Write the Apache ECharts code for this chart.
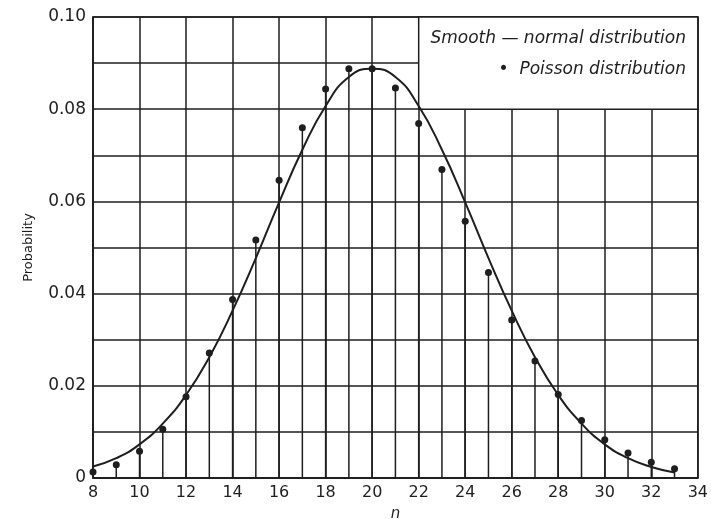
<!DOCTYPE html>
<html>
<head>
<meta charset="utf-8">
<title>Poisson vs normal</title>
<script src="https://cdn.jsdelivr.net/npm/echarts@6/dist/echarts.min.js"></script>
<style>
  html, body { margin: 0; padding: 0; background: #fff; }
  #chart { width: 711px; height: 527px; }
</style>
</head>
<body>
<div id="chart"></div>
<script>
  // values
  const nValues = [8, 9, 10, 11, 12, 13, 14, 15, 16, 17, 18, 19, 20,
    21, 22, 23, 24, 25, 26, 27, 28, 29, 30, 31, 32, 33]
  const poissonProb = [0.0013, 0.0029, 0.0058, 0.0106, 0.0176, 0.0271, 0.0387, 0.0516, 0.0646, 0.0760, 0.0844, 0.0888, 0.0888,
    0.0846, 0.0769, 0.0669, 0.0557, 0.0446, 0.0343, 0.0254, 0.0181, 0.0125, 0.0083, 0.0054, 0.0034, 0.0020]
  const normalProb = [0.0025, 0.0043, 0.0073, 0.0118, 0.0180, 0.0262, 0.0363, 0.0477, 0.0598, 0.0712, 0.0807, 0.0870, 0.0888,
    0.0870, 0.0807, 0.0712, 0.0598, 0.0477, 0.0363, 0.0262, 0.0180, 0.0118, 0.0073, 0.0043, 0.0024, 0.0012]
  const legendLines = ['Smooth \u2014 normal distribution', '\u2022  Poisson distribution']

  const ink = '#1e1e1e'
  const font = 'DejaVu Sans'

  const pairs = (xs, ys) => xs.map((x, i) => [x, ys[i]])

  const chart = echarts.init(document.getElementById('chart'))
  chart.setOption({
    backgroundColor: '#fff',
    animation: false,
    grid: {
      left: 93,
      right: 8,
      top: 17,
      bottom: 41,
      show: true,
      borderColor: ink,
      borderWidth: 1.5,
    },
    xAxis: {
      type: 'value',
      min: 8,
      max: 34,
      interval: 2,
      name: 'n',
      nameLocation: 'middle',
      nameGap: 29,
      nameTextStyle: { fontFamily: font, fontStyle: 'italic', fontSize: 15, color: ink },
      axisLine: { lineStyle: { color: ink, width: 1.5 } },
      axisTick: { show: false },
      axisLabel: { fontFamily: font, fontSize: 16, color: ink, margin: 7 },
      splitLine: { show: true, lineStyle: { color: ink, width: 1.5 } },
    },
    yAxis: {
      type: 'value',
      min: 0,
      max: 0.1,
      interval: 0.01,
      name: 'Probability',
      nameLocation: 'middle',
      nameGap: 58,
      nameTextStyle: { fontFamily: font, fontSize: 13, color: ink },
      axisLine: { show: true, lineStyle: { color: ink, width: 1.5 } },
      axisTick: { show: false },
      axisLabel: {
        fontFamily: font,
        fontSize: 17,
        color: ink,
        margin: 7,
        formatter: function (v) {
          const k = Math.round(v * 100)
          if (k % 2) return ''
          return k === 0 ? '0' : v.toFixed(2)
        },
      },
      splitLine: { show: true, lineStyle: { color: ink, width: 1.5 } },
    },
    series: [
      {
        // white box behind the legend text
        name: 'legendBox',
        type: 'line',
        data: [],
        z: 1,
        silent: true,
        markArea: {
          silent: true,
          itemStyle: { color: '#fff', borderColor: ink, borderWidth: 1.5 },
          data: [[{ coord: [22, 0.08] }, { coord: [34, 0.1] }]],
        },
      },
      {
        name: 'stems',
        type: 'bar',
        z: 2,
        barWidth: 1.5,
        itemStyle: { color: ink },
        data: pairs(nValues, poissonProb),
      },
      {
        name: 'Poisson distribution',
        type: 'scatter',
        z: 3,
        symbolSize: 7,
        itemStyle: { color: ink, opacity: 1 },
        data: pairs(nValues, poissonProb),
      },
      {
        name: 'normal distribution',
        type: 'line',
        z: 4,
        smooth: true,
        showSymbol: false,
        lineStyle: { color: ink, width: 2 },
        data: pairs(nValues, normalProb),
      },
    ],
    graphic: [
      {
        type: 'text',
        right: 25,
        top: 30,
        z: 100,
        style: { text: legendLines[0], fontFamily: font, fontStyle: 'italic', fontSize: 17, fill: ink },
      },
      {
        type: 'text',
        right: 25,
        top: 61,
        z: 100,
        style: { text: legendLines[1], fontFamily: font, fontStyle: 'italic', fontSize: 17, fill: ink },
      },
    ],
  })
</script>
</body>
</html>
